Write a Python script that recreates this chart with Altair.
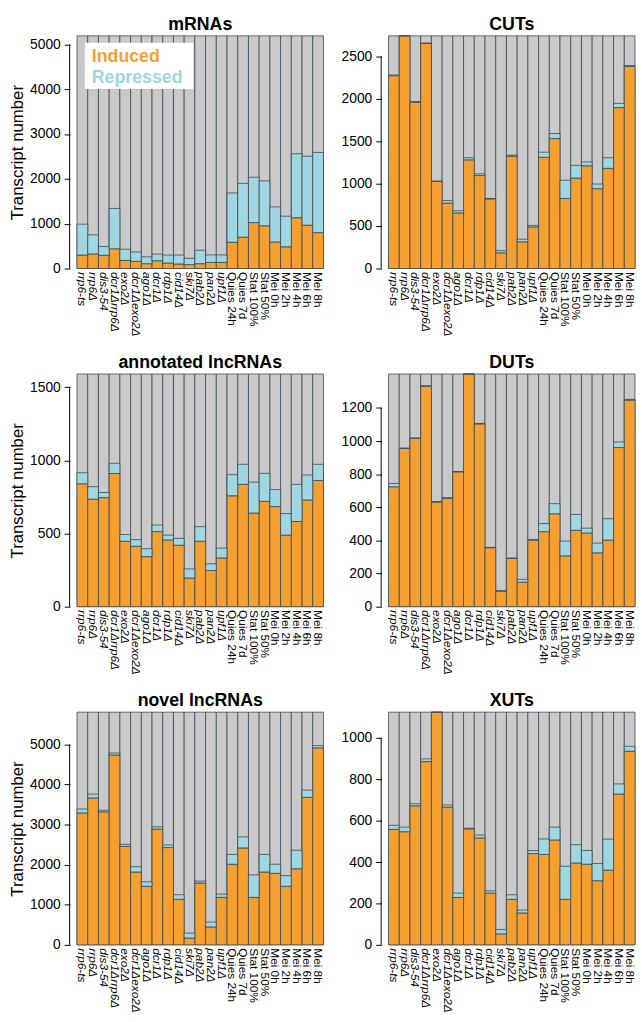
import altair as alt
import pandas as pd

CONDITIONS = ["rrp6-ts", "rrp6Δ", "dis3-54", "dcr1Δrrp6Δ", "exo2Δ", "dcr1Δexo2Δ",
              "ago1Δ", "dcr1Δ", "rdp1Δ", "cid14Δ", "ski7Δ", "pab2Δ", "pan2Δ", "upf1Δ",
              "Quies 24h", "Quies 7d", "Stat 100%", "Stat 50%",
              "Mei 0h", "Mei 2h", "Mei 4h", "Mei 6h", "Mei 8h"]

LEGEND_LABELS = ["Induced", "Repressed"]

MRNA_INDUCED = [300, 325, 295, 440, 180, 160, 108, 173, 123, 101, 87, 108, 137, 137,
                585, 700, 1025, 953, 592, 484, 1134, 967, 801]
MRNA_REPRESSED = [690, 426, 195, 900, 250, 210, 154, 149, 177, 199, 141, 300, 166, 166,
                  1100, 1200, 1011, 1002, 783, 684, 1426, 1538, 1789]
MRNA_TOTAL = 5190
MRNA_TICKS = [0, 1000, 2000, 3000, 4000, 5000]

CUT_INDUCED = [2270, 2740, 1960, 2650, 1025, 770, 655, 1280, 1095, 820, 185, 1325, 315, 490,
               1310, 1530, 825, 1065, 1210, 940, 1180, 1895, 2380]
CUT_REPRESSED = [10, 0, 5, 5, 5, 30, 25, 25, 20, 5, 25, 10, 30, 18,
                 60, 60, 215, 150, 45, 55, 125, 50, 10]
CUT_TOTAL = 2740
CUT_TICKS = [0, 500, 1000, 1500, 2000, 2500]

ALNC_INDUCED = [840, 735, 745, 910, 447, 413, 342, 513, 456, 420, 196, 447, 247, 333,
                758, 836, 640, 720, 684, 489, 582, 729, 862]
ALNC_REPRESSED = [75, 85, 35, 70, 46, 45, 54, 45, 33, 47, 62, 100, 46, 67,
                  144, 137, 211, 191, 116, 147, 254, 171, 111]
ALNC_TOTAL = 1590
ALNC_TICKS = [0, 500, 1000, 1500]

DUT_INDUCED = [724, 955, 1016, 1331, 632, 655, 815, 1405, 1104, 356, 94, 291, 148, 402,
               453, 561, 307, 461, 445, 325, 402, 961, 1248]
DUT_REPRESSED = [20, 3, 3, 3, 3, 3, 0, 0, 3, 2, 2, 3, 17, 3,
                 49, 61, 89, 96, 29, 59, 129, 33, 4]
DUT_TOTAL = 1405
DUT_TICKS = [0, 200, 400, 600, 800, 1000, 1200]

NLNC_INDUCED = [3290, 3665, 3317, 4736, 2457, 1817, 1460, 2887, 2427, 1135, 170, 1541, 446, 1184,
                2011, 2417, 1184, 1817, 1784, 1460, 1898, 3682, 4915]
NLNC_REPRESSED = [100, 95, 40, 50, 50, 130, 113, 57, 63, 114, 122, 49, 122, 81,
                  244, 276, 560, 438, 227, 267, 462, 178, 57]
NLNC_TOTAL = 5805
NLNC_TICKS = [0, 1000, 2000, 3000, 4000, 5000]

XUT_INDUCED = [558, 547, 672, 886, 1125, 666, 229, 561, 517, 250, 53, 220, 154, 441,
               437, 507, 220, 396, 390, 310, 361, 729, 936]
XUT_REPRESSED = [20, 22, 10, 13, 0, 10, 21, 3, 14, 11, 21, 22, 14, 15,
                 75, 62, 160, 88, 66, 83, 150, 49, 24]
XUT_TOTAL = 1125
XUT_TICKS = [0, 200, 400, 600, 800, 1000]

ORANGE = "#F6A031"
BLUE = "#A0D6E2"
GRAY = "#C9C9C9"
EDGE = "#3E4B52"
FONT = "Liberation Sans"
W, H = 250, 236
AXIS_OFFSET = 7

ITALIC_RULE = {
    "condition": {
        "test": "indexof(datum.value, 'Quies') === 0 || indexof(datum.value, 'Stat') === 0 || indexof(datum.value, 'Mei') === 0",
        "value": "normal",
    },
    "value": "italic",
}


def panel(title, induced, repressed, total, ticks, ytitle, legend=False):
    df = pd.DataFrame({"cond": CONDITIONS, "induced": induced, "repressed": repressed})
    df["top"] = df["induced"] + df["repressed"]
    df["total"] = total

    xenc = alt.X("cond:N", sort=CONDITIONS,
                 scale=alt.Scale(paddingInner=0, paddingOuter=0),
                 axis=alt.Axis(title=None, labelAngle=90, domain=False, ticks=False,
                               labelPadding=3, labelFontSize=12, labelFont=FONT,
                               labelColor="black", labelFontStyle=ITALIC_RULE))
    yscale = alt.Scale(domain=[0, total], nice=False, zero=True)
    common = dict(values=ticks, format="d", offset=AXIS_OFFSET, tickSize=6, labelPadding=4,
                  labelFontSize=14, labelFont=FONT, labelColor="black", labelOverlap=False,
                  domain=False, tickColor="black", grid=False)
    if ytitle:
        yaxis = alt.Axis(title=ytitle, titleFont=FONT, titleFontSize=17,
                         titleFontWeight="normal", titlePadding=3, titleColor="black",
                         **common)
    else:
        yaxis = alt.Axis(title=None, **common)

    base = alt.Chart(df)
    gray = base.mark_bar(color=GRAY, stroke=EDGE, strokeWidth=0.8).encode(
        x=xenc, y=alt.Y("total:Q", scale=yscale, axis=yaxis))
    orange = base.mark_bar(color=ORANGE, stroke=EDGE, strokeWidth=0.8).encode(
        x=xenc, y=alt.Y("induced:Q", scale=yscale, axis=yaxis))
    blue = base.mark_bar(color=BLUE, stroke=EDGE, strokeWidth=0.8).encode(
        x=xenc, y=alt.Y("induced:Q", scale=yscale, axis=yaxis), y2="top:Q")

    # R-style axis line running from the first to the last tick only
    axis_line = alt.Chart(pd.DataFrame({"k": [0]})).mark_rule(
        color="black", strokeWidth=1).encode(
        x=alt.value(-AXIS_OFFSET - 0.5),
        y=alt.datum(ticks[0], scale=yscale, axis=yaxis),
        y2=alt.datum(ticks[-1]))
    layers = [gray, orange, blue, axis_line]

    if legend:
        ld = pd.DataFrame({"k": [0]})
        box = alt.Chart(ld).mark_rect(fill="white").encode(
            x=alt.value(8), x2=alt.value(118), y=alt.value(7), y2=alt.value(54))
        t1 = alt.Chart(ld).mark_text(text=LEGEND_LABELS[0], color=ORANGE, fontSize=18,
                                     fontWeight="bold", font=FONT, align="left",
                                     baseline="alphabetic").encode(
            x=alt.value(15), y=alt.value(27))
        t2 = alt.Chart(ld).mark_text(text=LEGEND_LABELS[1], color=BLUE, fontSize=18,
                                     fontWeight="bold", font=FONT, align="left",
                                     baseline="alphabetic").encode(
            x=alt.value(15), y=alt.value(48))
        layers += [box, t1, t2]

    return alt.layer(*layers).properties(
        width=W, height=H,
        title=alt.TitleParams(title, fontSize=18, fontWeight="bold", font=FONT,
                              color="black", offset=2))


p1 = panel("mRNAs", MRNA_INDUCED, MRNA_REPRESSED, MRNA_TOTAL, MRNA_TICKS, "Transcript number", legend=True)
p2 = panel("CUTs", CUT_INDUCED, CUT_REPRESSED, CUT_TOTAL, CUT_TICKS, None)
p3 = panel("annotated lncRNAs", ALNC_INDUCED, ALNC_REPRESSED, ALNC_TOTAL, ALNC_TICKS, "Transcript number")
p4 = panel("DUTs", DUT_INDUCED, DUT_REPRESSED, DUT_TOTAL, DUT_TICKS, None)
p5 = panel("novel lncRNAs", NLNC_INDUCED, NLNC_REPRESSED, NLNC_TOTAL, NLNC_TICKS, "Transcript number")
p6 = panel("XUTs", XUT_INDUCED, XUT_REPRESSED, XUT_TOTAL, XUT_TICKS, None)

chart = alt.vconcat(
    alt.hconcat(p1, p2, spacing=16),
    alt.hconcat(p3, p4, spacing=16),
    alt.hconcat(p5, p6, spacing=16),
    spacing=17,
).properties(padding=0).configure_view(strokeWidth=0)

chart.save("out.html", embed_options={"renderer": "svg", "actions": False})
